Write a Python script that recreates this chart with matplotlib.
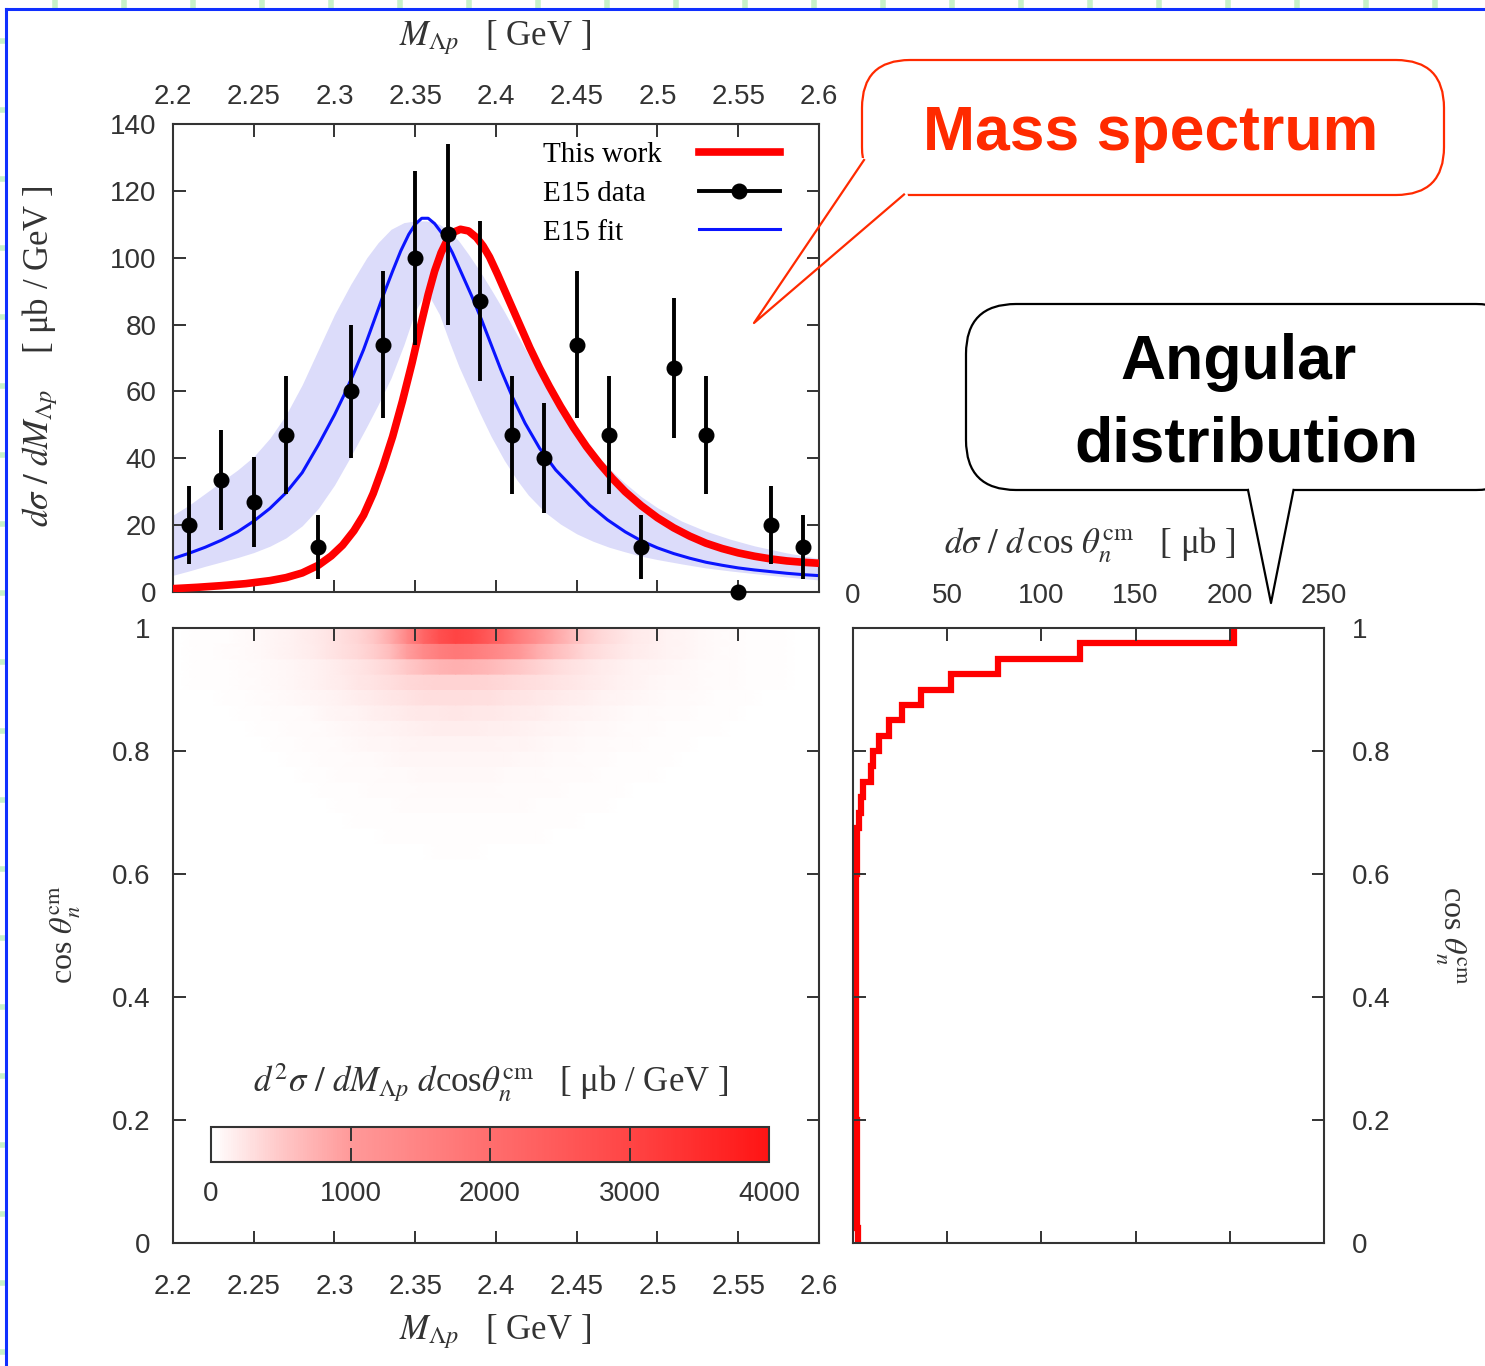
import numpy as np
import matplotlib
matplotlib.use('Agg')
import matplotlib.pyplot as plt
from matplotlib.colors import LinearSegmentedColormap, Normalize
from matplotlib.cm import ScalarMappable
from matplotlib.lines import Line2D
from matplotlib.patches import FancyBboxPatch, Polygon

plt.rcParams['font.family'] = ['Liberation Sans', 'DejaVu Sans']
plt.rcParams['mathtext.fontset'] = 'stix'
SERIF = ['Liberation Serif', 'DejaVu Serif']
INK = '#333333'

# ---------------- mass spectrum data ----------------
# E15 data points (20 MeV bins)
m_data = [2.21, 2.23, 2.25, 2.27, 2.29, 2.31, 2.33, 2.35, 2.37, 2.39,
          2.41, 2.43, 2.45, 2.47, 2.49, 2.51, 2.53, 2.55, 2.57, 2.59]
y_data = [20, 33.5, 27, 47, 13.4, 60, 74, 100, 107, 87,
          47, 40, 74, 47, 13.4, 67, 47, 0, 20, 13.4]
y_err = [11.6, 15, 13.4, 17.7, 9.5, 20, 22, 26, 27, 24,
         17.7, 16.4, 22, 17.7, 9.5, 21, 17.7, 0, 11.6, 9.5]

# "This work" curve
m_work = [2.2, 2.215, 2.23, 2.245, 2.26, 2.27, 2.28, 2.29, 2.298, 2.305,
          2.312, 2.318, 2.324, 2.33, 2.336, 2.342, 2.348, 2.353, 2.358, 2.362,
          2.366, 2.37, 2.374, 2.378, 2.383, 2.388, 2.392, 2.396, 2.401, 2.406,
          2.411, 2.416, 2.421, 2.427, 2.433, 2.44, 2.448, 2.456, 2.464, 2.472,
          2.48, 2.49, 2.5, 2.51, 2.52, 2.53, 2.54, 2.55, 2.56, 2.57,
          2.58, 2.59, 2.6]
y_work = [1.0, 1.4, 1.9, 2.5, 3.4, 4.3, 5.7, 8.0, 10.8, 14,
          18.3, 23, 29.5, 37.5, 46.5, 57, 68.5, 79, 89, 96,
          101.5, 105.5, 107.7, 108.5, 108, 106, 103.5, 100.2, 95, 89.5,
          84, 78.5, 73, 67, 61.5, 55.5, 49.2, 43.5, 38.5, 34,
          30, 25.8, 22.2, 19.2, 16.7, 14.6, 13, 11.7, 10.7, 9.9,
          9.3, 8.9, 8.6]

# E15 fit curve
m_fit = [2.2, 2.21, 2.22, 2.23, 2.24, 2.25, 2.26, 2.27, 2.28, 2.29,
         2.3, 2.306, 2.312, 2.318, 2.324, 2.33, 2.336, 2.341, 2.346, 2.35,
         2.354, 2.358, 2.362, 2.367, 2.373, 2.379, 2.385, 2.391, 2.397, 2.403,
         2.41, 2.418, 2.427, 2.437, 2.448, 2.458, 2.469, 2.48, 2.49, 2.5,
         2.51, 2.52, 2.53, 2.54, 2.55, 2.56, 2.57, 2.58, 2.59, 2.6]
y_fit = [10, 11.6, 13.4, 15.5, 18, 21.2, 25, 29.7, 35.7, 44,
         53, 59, 65.5, 72.5, 80.5, 88.5, 96, 102, 107, 110,
         111.8, 111.8, 110.2, 107, 101.5, 95, 88.5, 81.5, 74, 66.5,
         58.5, 50.5, 43, 36.5, 31, 26, 21.6, 18, 15.3, 13.2,
         11.5, 10.1, 8.9, 8, 7.2, 6.6, 6.1, 5.6, 5.2, 4.9]

# E15 fit uncertainty band
m_band = [2.2, 2.21, 2.22, 2.23, 2.24, 2.25, 2.26, 2.27, 2.28, 2.29,
          2.3, 2.31, 2.32, 2.327, 2.335, 2.343, 2.35, 2.357, 2.365, 2.371,
          2.377, 2.383, 2.39, 2.397, 2.405, 2.413, 2.42, 2.43, 2.44, 2.45,
          2.46, 2.47, 2.48, 2.49, 2.5, 2.515, 2.53, 2.545, 2.56, 2.58, 2.6]
band_hi = [23, 26, 29.5, 33, 36.5, 40.5, 46, 53, 62, 72.5,
           83, 92, 100, 104.5, 108.5, 110.5, 111, 111, 110, 108,
           105, 101, 96, 90.5, 84, 77, 71, 63, 55.5, 48.5,
           42.5, 37, 32.5, 28.5, 25.2, 21.2, 18.2, 15.8, 13.8, 11.7, 10]
band_lo = [5, 6.3, 7.7, 9, 10.3, 11.8, 13.7, 16.2, 19.8, 25,
           32, 40.5, 49.5, 56, 64, 74, 84, 90, 83, 75,
           67.5, 61, 53.5, 46.5, 39.5, 33.5, 29, 24, 20.3, 17.4,
           15.2, 13.4, 12, 10.7, 9.7, 8.4, 7.2, 6.3, 5.5, 4.5, 3.6]

m_ticks = [2.2, 2.25, 2.3, 2.35, 2.4, 2.45, 2.5, 2.55, 2.6]
m_ticklabels = ['2.2', '2.25', '2.3', '2.35', '2.4', '2.45', '2.5', '2.55', '2.6']
xs_ticks = [0, 20, 40, 60, 80, 100, 120, 140]
xs_ticklabels = ['0', '20', '40', '60', '80', '100', '120', '140']

# ---------------- angular distribution ----------------
cos_edges = np.linspace(0, 1, 41)
ang_vals = [2.4, 2.3, 2.2, 2.1, 2.0, 2.0, 1.9, 1.9, 1.8, 1.8,
            1.7, 1.7, 1.7, 1.6, 1.6, 1.6, 1.5, 1.5, 1.5, 1.5,
            1.5, 1.6, 1.6, 1.7, 1.9, 2.2, 2.3, 3.0, 4.4, 5.4,
            9.6, 10.8, 13.8, 19, 26, 36, 52, 77, 120.5, 202]
cos_ticks = [0, 0.2, 0.4, 0.6, 0.8, 1]
cos_ticklabels = ['0', '0.2', '0.4', '0.6', '0.8', '1']
ang_ticks = [0, 50, 100, 150, 200, 250]
ang_ticklabels = ['0', '50', '100', '150', '200', '250']

# ---------------- 2D distribution ----------------
# mass profile of the double differential at 10 MeV steps (2.205 .. 2.595)
m_cols = [2.205, 2.215, 2.225, 2.235, 2.245, 2.255, 2.265, 2.275, 2.285, 2.295,
          2.305, 2.315, 2.325, 2.335, 2.345, 2.355, 2.365, 2.375, 2.385, 2.395,
          2.405, 2.415, 2.425, 2.435, 2.445, 2.455, 2.465, 2.475, 2.485, 2.495,
          2.505, 2.515, 2.525, 2.535, 2.545, 2.555, 2.565, 2.575, 2.585, 2.595]
prof_fwd = [0, 0, 0, 0, 0.005, 0.008, 0.012, 0.017, 0.024, 0.033,
            0.045, 0.065, 0.1, 0.2, 0.42, 0.7, 0.9, 1.0, 0.95, 0.82,
            0.68, 0.5, 0.36, 0.25, 0.17, 0.11, 0.075, 0.05, 0.035, 0.025,
            0.018, 0.012, 0.008, 0.005, 0, 0, 0, 0, 0, 0]
prof_wide = [0.03, 0.04, 0.05, 0.07, 0.09, 0.12, 0.16, 0.21, 0.28, 0.36,
             0.45, 0.55, 0.66, 0.77, 0.87, 0.94, 0.99, 1.0, 0.98, 0.94,
             0.88, 0.8, 0.72, 0.63, 0.55, 0.47, 0.4, 0.34, 0.28, 0.23,
             0.19, 0.16, 0.13, 0.1, 0.08, 0.06, 0.05, 0.04, 0.03, 0.03]
# peak value of each cos bin (0 .. 1)
rows_fwd = [0] * 37 + [350, 1250, 2600]
rows_wide = [5, 5, 5, 5, 5, 5, 5, 5, 5, 5,
             5, 5, 5, 6, 6, 6, 7, 7, 8, 8,
             9, 9, 10, 11, 12, 16, 22, 30, 40, 50,
             70, 90, 120, 160, 220, 300, 400, 400, 500, 400]
cb_ticks = [0, 1000, 2000, 3000, 4000]
cb_ticklabels = ['0', '1000', '2000', '3000', '4000']

heat = np.outer(rows_fwd, prof_fwd) + np.outer(rows_wide, prof_wide)

cmap = LinearSegmentedColormap.from_list('wr', [
    (0.0, (1, 1, 1)), (0.125, (1, 0.78, 0.78)), (0.25, (1, 0.60, 0.60)),
    (0.5, (1, 0.43, 0.43)), (0.75, (1, 0.27, 0.27)), (1.0, (1, 0.08, 0.08))])
norm = Normalize(0, 4000)

# ---------------- figure ----------------
W, H = 1485, 1366
fig = plt.figure(figsize=(W / 100, H / 100), dpi=100)


def rect(x0, y0, x1, y1):
    return [x0 / W, 1 - y1 / H, (x1 - x0) / W, (y1 - y0) / H]


def style(ax):
    for s in ax.spines.values():
        s.set_color(INK)
        s.set_linewidth(1.5)
    ax.tick_params(direction='in', length=9, width=1.4, color=INK,
                   labelcolor=INK, labelsize=20, top=True, right=True)


# mass spectrum
ax_m = fig.add_axes(rect(173, 124, 819, 592))
style(ax_m)
ax_m.fill_between(m_band, band_lo, band_hi, color='#dcdcfa', lw=0, zorder=1)
ax_m.plot(m_fit, y_fit, color='#0a14ff', lw=2.2, zorder=2)
ax_m.plot(m_work, y_work, color='#ff0000', lw=5.5, zorder=3,
          solid_capstyle='butt', solid_joinstyle='round')
ax_m.errorbar(m_data, y_data, yerr=y_err, fmt='o', color='black', ms=10.5,
              elinewidth=2.8, capsize=0, zorder=4, clip_on=False)
ax_m.set_xlim(2.2, 2.6)
ax_m.set_ylim(0, 140)
ax_m.set_xticks(m_ticks, m_ticklabels)
ax_m.set_yticks(xs_ticks, xs_ticklabels)
ax_m.tick_params(axis='x', labeltop=True, labelbottom=False, pad=10)
ax_m.tick_params(axis='y', pad=12)

leg_labels = ['This work', 'E15 data', 'E15 fit']
handles = [Line2D([], [], color='#ff0000', lw=5.5),
           Line2D([], [], color='black', lw=2.8, marker='o', ms=10.5),
           Line2D([], [], color='#0a14ff', lw=2.2)]
leg_kw = dict(frameon=False, prop={'family': SERIF, 'size': 21},
              labelspacing=0.42, borderpad=0, borderaxespad=0)
# line samples (labels kept invisible so rows line up), then left-aligned texts
leg_h = ax_m.legend(handles, leg_labels, loc='upper right', bbox_to_anchor=(0.94, 0.962),
                    markerfirst=False, handlelength=2.8, handletextpad=1.0, **leg_kw)
for t in leg_h.get_texts():
    t.set_alpha(0)
ax_m.add_artist(leg_h)
blank = [Line2D([], [], lw=0) for _ in leg_labels]
ax_m.legend(blank, leg_labels, loc='upper left', bbox_to_anchor=(0.573, 0.962),
            handlelength=0, handletextpad=0, **leg_kw)

# 2D distribution: each cos bin is one row, smooth along the mass axis
ax_h = fig.add_axes(rect(173, 628, 819, 1243))
style(ax_h)
for i in range(len(rows_wide)):
    ax_h.pcolormesh(m_cols, cos_edges[i:i + 2], np.vstack([heat[i], heat[i]]),
                    cmap=cmap, norm=norm, shading='gouraud', zorder=0)
ax_h.set_xlim(2.2, 2.6)
ax_h.set_ylim(0, 1)
ax_h.set_xticks(m_ticks, m_ticklabels)
ax_h.set_yticks(cos_ticks, cos_ticklabels)
ax_h.tick_params(axis='x', pad=22)
ax_h.tick_params(axis='y', pad=16)

cax = fig.add_axes(rect(211, 1127, 769, 1162))
cb = fig.colorbar(ScalarMappable(norm=norm, cmap=cmap), cax=cax,
                  orientation='horizontal')
cb.set_ticks(cb_ticks, labels=cb_ticklabels)
cb.outline.set_edgecolor(INK)
cb.outline.set_linewidth(1.5)
cax.tick_params(direction='in', length=10, width=1.4, color=INK,
                labelcolor=INK, labelsize=20, top=True, pad=14)

# angular distribution
ax_a = fig.add_axes(rect(853, 628, 1324, 1243))
style(ax_a)
ax_a.stairs(ang_vals, cos_edges, orientation='horizontal', baseline=None,
            color='#ff0000', lw=4.5)
ax_a.set_xlim(0, 250)
ax_a.set_ylim(0, 1)
ax_a.set_xticks(ang_ticks, ang_ticklabels)
ax_a.set_yticks(cos_ticks, cos_ticklabels)
ax_a.tick_params(axis='x', labeltop=True, labelbottom=False, pad=14)
ax_a.tick_params(axis='y', labelright=True, labelleft=False, pad=20)


# axis titles
def ftext(x, y, s, **kw):
    fig.text(x / W, 1 - y / H, s, ha='center', va='center', color=INK,
             family=SERIF, **kw)


ftext(495, 38, r'$M_{\Lambda p}$   [ GeV ]', fontsize=25)
ftext(495, 1332, r'$M_{\Lambda p}$   [ GeV ]', fontsize=25)
ftext(40, 356, r'$d\sigma\ /\ dM_{\Lambda p}$    [ μb / GeV ]', fontsize=25,
      rotation=90)
ftext(66, 935, r'cos $\theta_n^{\rm cm}$', fontsize=23, rotation=90)
ftext(1450, 935, r'cos $\theta_n^{\rm cm}$', fontsize=23, rotation=270)
ftext(1090, 545, r'$d\sigma\ /\ d\,$cos $\theta_n^{\rm cm}$   [ μb ]', fontsize=25)
ftext(491, 1083, r'$d^2\sigma\ /\ dM_{\Lambda p}\ d$cos$\theta_n^{\rm cm}$   [ μb / GeV ]',
      fontsize=25)

# ---------------- slide decoration: frame and callouts ----------------
ov = fig.add_axes([0, 0, 1, 1], zorder=10)
ov.set_xlim(0, W)
ov.set_ylim(H, 0)
ov.axis('off')
ov.patch.set_alpha(0)

ov.vlines(np.arange(55, W, 69), 0, 8, color='#c8f2c8', lw=4)
ov.hlines(np.arange(41, H, 69), 0, 5, color='#c8f2c8', lw=4)
ov.plot([6, W + 5], [9, 9], color='#1030ff', lw=2.2)
ov.plot([6, 6], [9, H + 5], color='#1030ff', lw=2.2)

# "Mass spectrum"
red_c = '#ff2a00'
ov.add_patch(FancyBboxPatch((862, 60), 582, 135, boxstyle='round,pad=0,rounding_size=48',
                            fc='white', ec=red_c, lw=1.6, zorder=1))
ov.add_patch(Polygon([(856, 158), (867, 158), (907, 191), (909, 201), (856, 201)],
                     closed=True, fc='white', ec='none', zorder=2))
ov.plot([864, 754, 904], [160, 323, 194.5], color=red_c, lw=1.6, zorder=3)
ov.text(1151, 150, 'Mass spectrum', color=red_c, fontsize=45,
        fontweight='bold', ha='center', va='baseline', zorder=4)

# "Angular distribution"
ov.add_patch(FancyBboxPatch((966, 304), 560, 186, boxstyle='round,pad=0,rounding_size=50',
                            fc='white', ec='black', lw=1.6, zorder=1))
ov.add_patch(Polygon([(1249, 486), (1293, 486), (1293, 494), (1249, 494)],
                     closed=True, fc='white', ec='none', zorder=2))
ov.plot([1248, 1271, 1293.5], [490, 603, 490], color='black', lw=1.6, zorder=3)
ov.text(1239, 379, 'Angular', color='black', fontsize=45,
        fontweight='bold', ha='center', va='baseline', zorder=4)
ov.text(1246, 462, 'distribution', color='black', fontsize=45,
        fontweight='bold', ha='center', va='baseline', zorder=4)

fig.savefig('out.png', dpi=100, facecolor='white')
